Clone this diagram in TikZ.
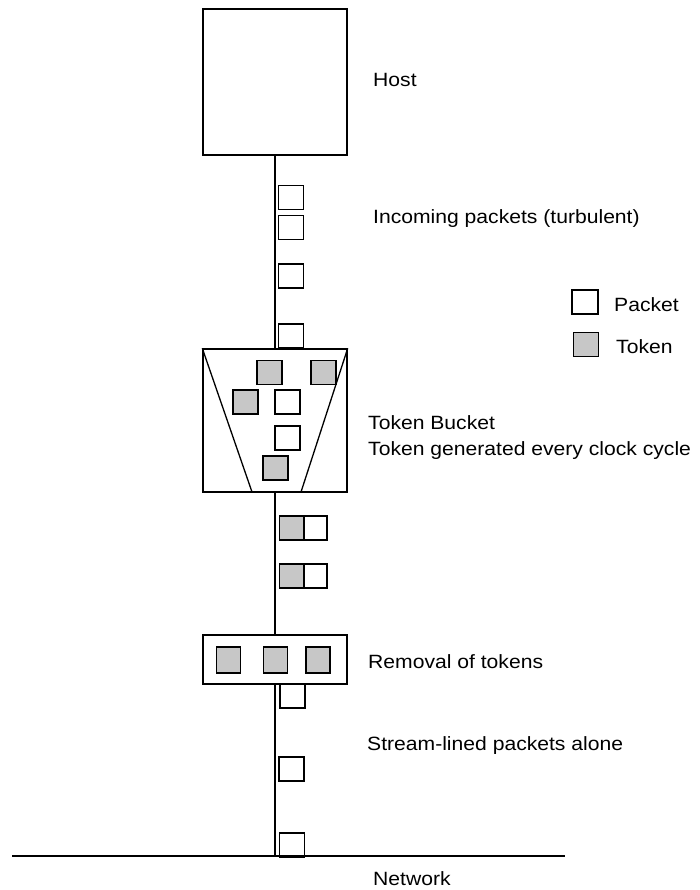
\documentclass[tikz,border=0pt]{standalone}
\usepackage{fontspec}
\setmainfont[FakeStretch=1.1]{Liberation Sans}
\begin{document}
\begin{tikzpicture}[x=1pt,y=-1pt,
  box/.style={draw,line width=1.4pt,minimum width=144pt,inner sep=0pt},
  pkt/.style={draw,line width=1.2pt,minimum width=25pt,minimum height=24pt,inner sep=0pt},
  tok/.style={pkt,fill=black!22},
  wire/.style={line width=1.3pt},
  lbl/.style={anchor=base west,inner sep=0pt,font=\fontsize{19.2}{23}\selectfont}]
\useasboundingbox (0,0) rectangle (699,890);
% main boxes
\node[box,minimum height=146pt] (host) at (275,82) {};
\node[box,minimum height=143pt] (bucket) at (275,420.5) {};
\node[box,minimum height=49pt] (rem) at (275,659.5) {};
\coordinate (netL) at (12,856);
\coordinate (netR) at (565,856);
\coordinate (net) at (275,856);
% connectors
\draw[wire] (host.south) -- (bucket.north);
\draw[wire] (bucket.south) -- (rem.north);
\draw[wire] (rem.south) -- (net);
\draw[wire] (netL) -- (netR);
% bucket sides
\coordinate (bl) at (252,492);
\coordinate (br) at (301,492);
\draw[line width=1.3pt] (bucket.north west) -- (bl);
\draw[line width=1.3pt] (bucket.north east) -- (br);
% incoming packets
\node[pkt] (p1) at (291,197.5) {};
\node[pkt] (p2) at (291,227.5) {};
\node[pkt] (p3) at (291,276) {};
\node[pkt] (p4) at (291,336) {};
% bucket contents
\node[tok] (b1) at (269.5,372.5) {};
\node[tok] (b2) at (323.5,372.5) {};
\node[tok] (b3) at (245.5,402) {};
\node[pkt] (b4) at (287.5,402) {};
\node[pkt] (b5) at (287.5,438) {};
\node[tok] (b6) at (275.5,468) {};
% token+packet pairs
\node[tok,minimum width=24.5pt] (q1t) at (291.5,528) {};
\node[pkt,minimum width=23pt] (q1p) at (315.5,528) {};
\node[tok,minimum width=24.5pt] (q2t) at (291.5,576) {};
\node[pkt,minimum width=23pt] (q2p) at (315.5,576) {};
% removal tokens
\node[tok,minimum width=24pt,minimum height=26pt] (r1) at (228.5,660) {};
\node[tok,minimum width=24pt,minimum height=26pt] (r2) at (275.5,660) {};
\node[tok,minimum width=24pt,minimum height=26pt] (r3) at (318,660) {};
% stream-lined packets
\node[pkt] (s1) at (292.5,696) {};
\node[pkt] (s2) at (291.5,769) {};
\node[pkt] (s3) at (292,845) {};
% legend
\node[pkt,minimum width=26pt] (lp) at (585,302) {};
\node[tok,minimum width=25pt] (lt) at (586,344.5) {};
\node[lbl] (lpt) at (614,311) {Packet};
\node[lbl] (ltt) at (616,353) {Token};
% labels
\node[lbl] (thost) at (373,87) {Host};
\node[lbl] (tinc) at (373,224) {Incoming packets (turbulent)};
\node[lbl] (tbuck) at (368,429) {Token Bucket};
\node[lbl] (tgen) at (368,455) {Token generated every clock cycle};
\node[lbl] (trem) at (368,668) {Removal of tokens};
\node[lbl] (tstr) at (367,750) {Stream-lined packets alone};
\node[lbl] (tnet) at (373,885) {Network};
\end{tikzpicture}
\end{document}
